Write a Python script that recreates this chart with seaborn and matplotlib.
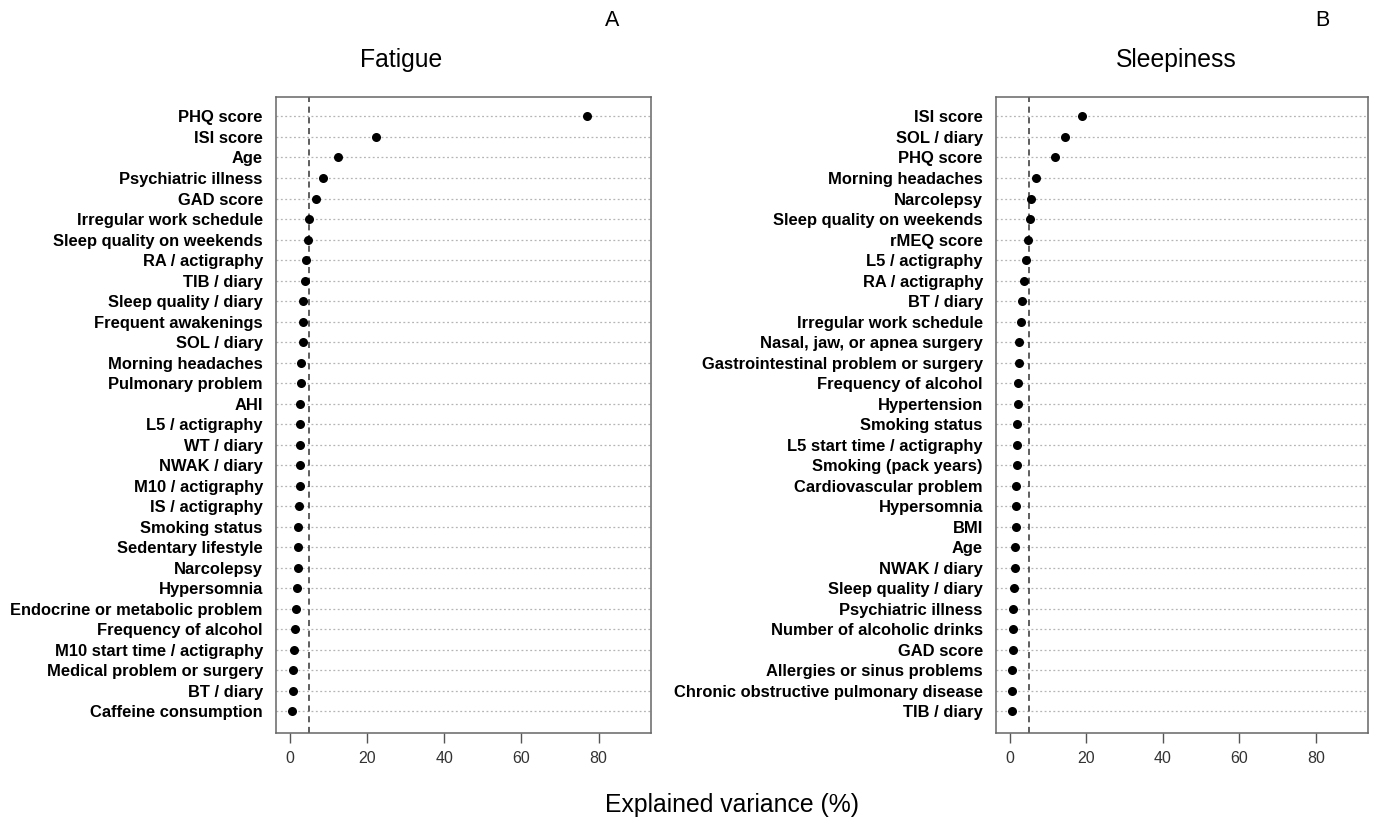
import matplotlib
matplotlib.use("Agg")
import matplotlib.pyplot as plt
import seaborn as sns
import pandas as pd

fatigue_labels = [
    "PHQ score", "ISI score", "Age", "Psychiatric illness", "GAD score",
    "Irregular work schedule", "Sleep quality on weekends", "RA / actigraphy",
    "TIB / diary", "Sleep quality / diary", "Frequent awakenings", "SOL / diary",
    "Morning headaches", "Pulmonary problem", "AHI", "L5 / actigraphy",
    "WT / diary", "NWAK / diary", "M10 / actigraphy", "IS / actigraphy",
    "Smoking status", "Sedentary lifestyle", "Narcolepsy", "Hypersomnia",
    "Endocrine or metabolic problem", "Frequency of alcohol",
    "M10 start time / actigraphy", "Medical problem or surgery", "BT / diary",
    "Caffeine consumption",
]
fatigue_values = [
    76.9, 22.2, 12.5, 8.7, 6.7, 4.9, 4.6, 4.3, 3.9, 3.5, 3.3, 3.3, 2.95, 2.8,
    2.7, 2.75, 2.5, 2.5, 2.5, 2.25, 2.1, 2.1, 2.1, 1.8, 1.6, 1.3, 1.15, 0.9,
    0.9, 0.6,
]

sleepiness_labels = [
    "ISI score", "SOL / diary", "PHQ score", "Morning headaches", "Narcolepsy",
    "Sleep quality on weekends", "rMEQ score", "L5 / actigraphy",
    "RA / actigraphy", "BT / diary", "Irregular work schedule",
    "Nasal, jaw, or apnea surgery", "Gastrointestinal problem or surgery",
    "Frequency of alcohol", "Hypertension", "Smoking status",
    "L5 start time / actigraphy", "Smoking (pack years)",
    "Cardiovascular problem", "Hypersomnia", "BMI", "Age", "NWAK / diary",
    "Sleep quality / diary", "Psychiatric illness",
    "Number of alcoholic drinks", "GAD score", "Allergies or sinus problems",
    "Chronic obstructive pulmonary disease", "TIB / diary",
]
sleepiness_values = [
    18.9, 14.3, 11.8, 6.8, 5.5, 5.2, 4.8, 4.2, 3.8, 3.2, 2.95, 2.35, 2.35,
    2.1, 2.1, 1.9, 1.9, 1.9, 1.65, 1.65, 1.65, 1.4, 1.4, 1.2, 0.95, 0.95,
    0.95, 0.45, 0.45, 0.45,
]

x_ticks = [0, 20, 40, 60, 80]
threshold = 5
panel_titles = ["Fatigue", "Sleepiness"]
panel_letters = ["A", "B"]
x_label = "Explained variance (%)"

sns.set_theme(style="white")
plt.rcParams["font.family"] = ["Liberation Sans", "DejaVu Sans"]
plt.rcParams["text.color"] = "black"

fig = plt.figure(figsize=(13.78, 8.23), dpi=100)
W, H = 1378, 823
bottom_px, top_px = 732.5, 97
axes_px = [(276, 651), (996, 1368)]

panels = [
    (fatigue_labels, fatigue_values),
    (sleepiness_labels, sleepiness_values),
]

for i, ((labels, values), (l, r)) in enumerate(zip(panels, axes_px)):
    ax = fig.add_axes([l / W, 1 - bottom_px / H, (r - l) / W, (bottom_px - top_px) / H])
    df = pd.DataFrame({"label": labels, "value": values})
    n = len(labels)
    for k in range(n):
        ax.axhline(k, color="#b5b5b5", lw=0.9, ls=(0, (1.5, 2)), zorder=0)
    ax.axvline(threshold, color="#333333", lw=1.1, ls=(0, (4, 3)), zorder=1)
    sns.stripplot(data=df, x="value", y="label", order=labels, jitter=False,
                  color="black", size=6.5, linewidth=0, ax=ax, zorder=3)
    ax.set_xlim(-3.6, 93.6)
    ax.set_ylim(n - 1 + 1.04, -0.95)
    ax.set_xticks(x_ticks)
    ax.set_xticklabels([str(t) for t in x_ticks], color="#333333", fontsize=11.5)
    ax.tick_params(axis="x", bottom=True, length=7, width=1, color="#555555", pad=6)
    ax.tick_params(axis="y", left=False, pad=3.5)
    for t in ax.get_yticklabels():
        t.set_fontweight("bold")
        t.set_fontsize(11.9)
        t.set_color("black")
    ax.set_xlabel("")
    ax.set_ylabel("")
    for s in ax.spines.values():
        s.set_visible(True)
        s.set_color("#666666")
        s.set_linewidth(1.1)
    ax.grid(False)

fig.text(401 / W, 1 - 60 / H, panel_titles[0], ha="center", va="center", fontsize=17.8)
fig.text(1176 / W, 1 - 60 / H, panel_titles[1], ha="center", va="center", fontsize=17.8)
fig.text(612 / W, 1 - 20 / H, panel_letters[0], ha="center", va="center", fontsize=15.5)
fig.text(1322 / W, 1 - 20 / H, panel_letters[1], ha="center", va="center", fontsize=15.5)
fig.text(732 / W, 1 - 805 / H, x_label, ha="center", va="center", fontsize=17.8)

fig.savefig("out.png", dpi=100)
